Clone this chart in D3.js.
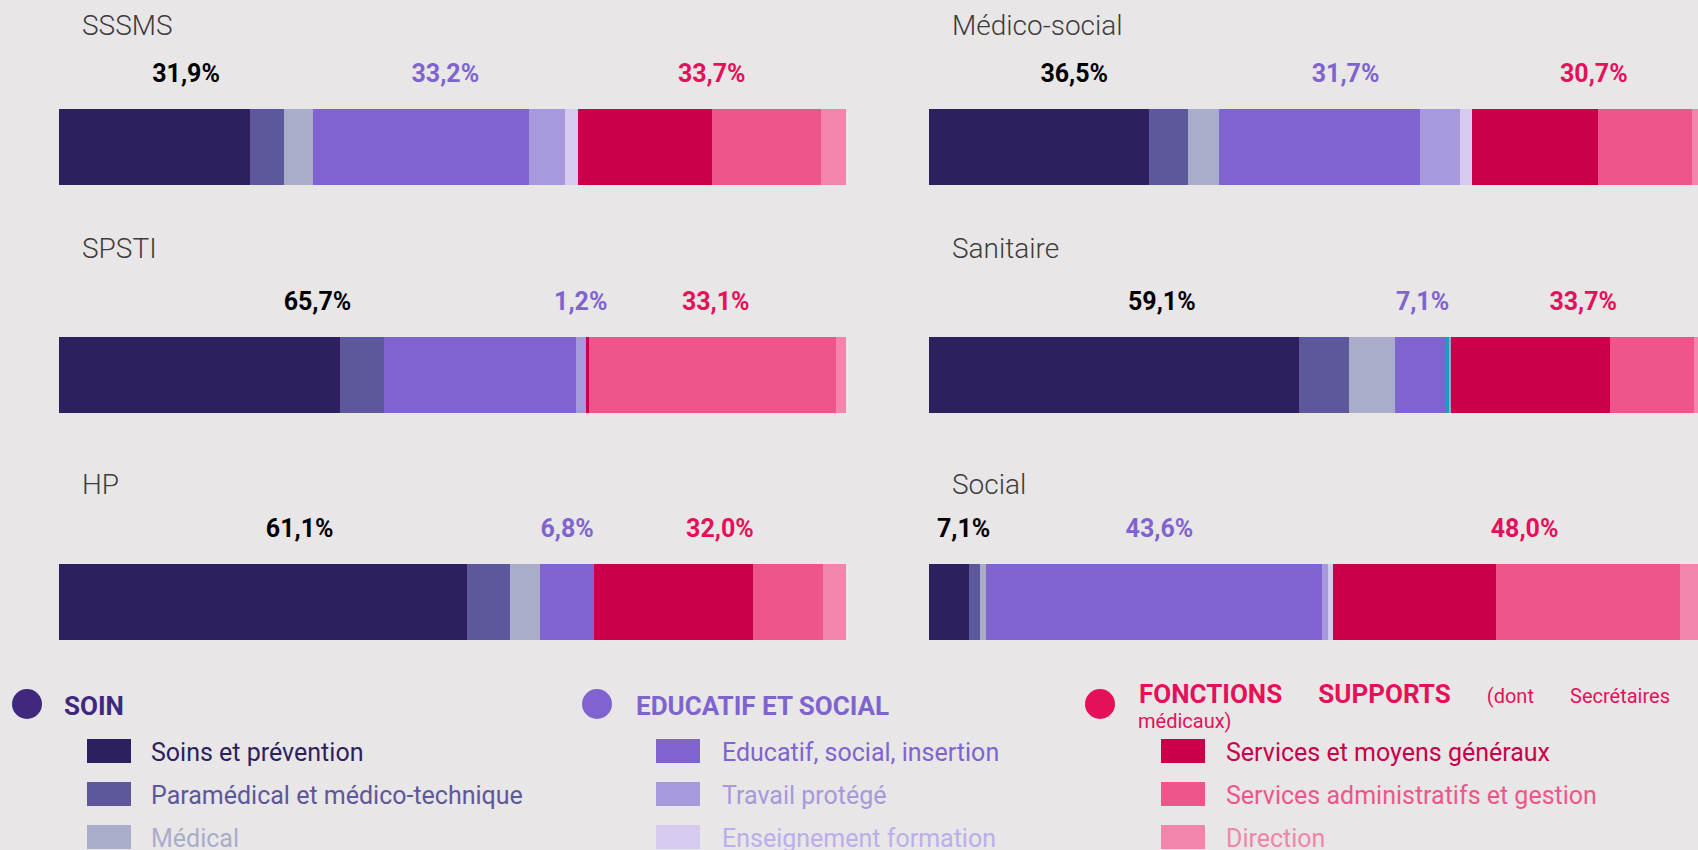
<!DOCTYPE html>
<html lang="fr">
<head>
<meta charset="utf-8">
<title>Répartition des effectifs par famille de métiers</title>
<script src="https://cdn.jsdelivr.net/npm/d3@7"></script>
<style>
  html, body { margin:0; padding:0; background:#e8e6e7; }
  svg { display:block; font-family:'Roboto','Liberation Sans',sans-serif; }
</style>
</head>
<body>
<svg id="chart" width="1698" height="850"></svg>
<script>
/* ---------- Data ---------- */
const sectors = ['SSSMS', 'Médico-social', 'SPSTI', 'Sanitaire', 'HP', 'Social'];

const seriesKeys   = ['soins','paramedical','medical','educatif','autre','travail','enseignement','services','administratif','direction'];
const seriesColors = ['#2e1f5e','#5d579c','#aaadca','#7f64cf','#1ba0b4','#a898dc','#d6cbee','#ca004b','#ee568b','#f285ac'];

// values per sector, same order as `sectors`
const soins         = [24.0, 27.7, 35.7, 47.0, 51.8,  5.0];
const paramedical   = [ 4.3,  4.9,  5.6,  6.3,  5.5,  1.4];
const medical       = [ 3.6,  3.9,  0.0,  5.8,  3.8,  0.7];
const educatif      = [27.1, 25.2, 24.4,  6.5,  6.7, 42.2];
const autre         = [ 0.0,  0.0,  0.0, 0.35,  0.1,  0.0];
const travail       = [ 4.5,  5.0,  1.2, 0.25,  0.0, 0.75];
const enseignement  = [ 1.6,  1.5,  0.0,  0.0,  0.0, 0.65];
const services      = [16.9, 15.9,  0.5, 20.3, 20.2, 20.4];
const administratif = [13.6, 11.8, 31.3, 10.6,  8.9, 23.1];
const direction     = [ 3.2,  3.0,  1.3,  2.8,  2.9,  4.5];

// printed totals per family
const soinTotals     = [31.9, 36.5, 65.7, 59.1, 61.1,  7.1];
const educatifTotals = [33.2, 31.7,  1.2,  7.1,  6.8, 43.6];
const supportTotals  = [33.7, 30.7, 33.1, 33.7, 32.0, 48.0];

const familyNames  = ['SOIN', 'EDUCATIF ET SOCIAL', 'FONCTIONS SUPPORTS'];
const familyColors = ['#40287f', '#7f64cf', '#e6105a'];
const labelColors  = ['#000000', '#7f64cf', '#e6105a'];

const legendLabels = [
  ['Soins et prévention', 'Paramédical et médico-technique', 'Médical'],
  ['Educatif, social, insertion', 'Travail protégé', 'Enseignement formation'],
  ['Services et moyens généraux', 'Services administratifs et gestion', 'Direction']
];
const legendKeys = [
  ['soins', 'paramedical', 'medical'],
  ['educatif', 'travail', 'enseignement'],
  ['services', 'administratif', 'direction']
];
const legendTextColors = {enseignement:'#bcaeea'};

/* ---------- Layout ---------- */
const colX     = [59, 929];        // bar start per column
const barW     = 787;
const barH     = 76;
const rowY     = [109, 336.5, 564]; // bar top per row
const titleY   = [35, 258, 494];
const titleX   = [82, 952];

const svg = d3.select('#chart');
const color = d3.scaleOrdinal().domain(seriesKeys).range(seriesColors);

const seriesData = {soins, paramedical, medical, educatif, autre, travail, enseignement, services, administratif, direction};
const rows = sectors.map((s, i) => {
  const r = {sector: s, i};
  seriesKeys.forEach(k => r[k] = seriesData[k][i]);
  return r;
});
const stacked = d3.stack().keys(seriesKeys)(rows);

const fr = d3.formatLocale({decimal:',', thousands:' ', grouping:[3], currency:['','€']});
const pct = v => fr.format('.1f')(v) + '%';

/* ---------- Panels ---------- */
rows.forEach((row, i) => {
  const col = i % 2, r = Math.floor(i / 2);
  const x0 = colX[col];
  const total = d3.sum(seriesKeys, k => row[k]);
  const x = d3.scaleLinear().domain([0, total]).range([x0, x0 + barW]);
  const g = svg.append('g').attr('class', 'panel');

  g.append('text')
    .attr('x', titleX[col]).attr('y', titleY[r])
    .style('font-size', '28px').style('font-weight', 300).style('fill', '#3d3d3d')
    .text(row.sector);

  g.selectAll('rect.seg')
    .data(stacked.map(s => ({key: s.key, v: s[i]})).filter(d => d.v[1] > d.v[0]))
    .join('rect')
      .attr('class', 'seg')
      .attr('x', d => x(d.v[0]))
      .attr('y', rowY[r])
      .attr('width', d => x(d.v[1]) - x(d.v[0]))
      .attr('height', barH)
      .attr('fill', d => color(d.key))
      .attr('shape-rendering', 'crispEdges');

  // family labels, centred over each family's share
  const fam = [soinTotals[i], educatifTotals[i], supportTotals[i]];
  const famSum = d3.sum(fam);
  const xl = d3.scaleLinear().domain([0, famSum]).range([x0, x0 + barW]);
  let cum = 0;
  fam.forEach((v, f) => {
    const t = g.append('text')
      .attr('y', rowY[r] - 27)
      .attr('text-anchor', 'middle')
      .style('font-size', '25px').style('font-weight', 700).style('fill', labelColors[f])
      .text(pct(v));
    const w = t.node().getComputedTextLength();
    let cx = xl(cum + v / 2);
    if (cx - w / 2 < x0 + 8) cx = x0 + 8 + w / 2;   // keep inside the bar start
    t.attr('x', cx);
    cum += v;
  });
});

/* ---------- Legend ---------- */
const legCircleX = [27, 597, 1100];
const legHeadX   = [64, 636, 1139];
const legBoxX    = [87, 656, 1161];
const legTextX   = [151, 722, 1226];
const legRowY    = [739, 782, 825];

const legend = svg.append('g').attr('class', 'legend');

familyNames.forEach((name, f) => {
  legend.append('circle')
    .attr('cx', legCircleX[f]).attr('cy', 704).attr('r', 15)
    .attr('fill', familyColors[f]);

  if (f < 2) {
    legend.append('text')
      .attr('x', legHeadX[f]).attr('y', 715)
      .style('font-size', '26px').style('font-weight', 700).style('fill', familyColors[f])
      .text(name);
  } else {
    // justified header, as in the source layout
    const words = [
      {t:'FONCTIONS', size:26, weight:700},
      {t:'SUPPORTS', size:26, weight:700},
      {t:'(dont', size:20, weight:400},
      {t:'Secrétaires', size:20, weight:400}
    ];
    const lineW = 531;
    const nodes = words.map(w => legend.append('text')
      .attr('y', 703)
      .style('font-size', w.size + 'px').style('font-weight', w.weight).style('fill', familyColors[f])
      .text(w.t));
    const widths = nodes.map(n => n.node().getComputedTextLength());
    const gap = (lineW - d3.sum(widths)) / (words.length - 1);
    let xx = legHeadX[f];
    nodes.forEach((n, j) => { n.attr('x', xx); xx += widths[j] + gap; });
    legend.append('text')
      .attr('x', legHeadX[f] - 1).attr('y', 728)
      .style('font-size', '20px').style('fill', familyColors[f])
      .text('médicaux)');
  }

  legendLabels[f].forEach((lab, j) => {
    const key = legendKeys[f][j];
    legend.append('rect')
      .attr('x', legBoxX[f]).attr('y', legRowY[j])
      .attr('width', 44).attr('height', 24)
      .attr('fill', color(key));
    legend.append('text')
      .attr('x', legTextX[f]).attr('y', legRowY[j] + 22)
      .style('font-size', '25px').style('fill', legendTextColors[key] || color(key))
      .text(lab);
  });
});
</script>
</body>
</html>
